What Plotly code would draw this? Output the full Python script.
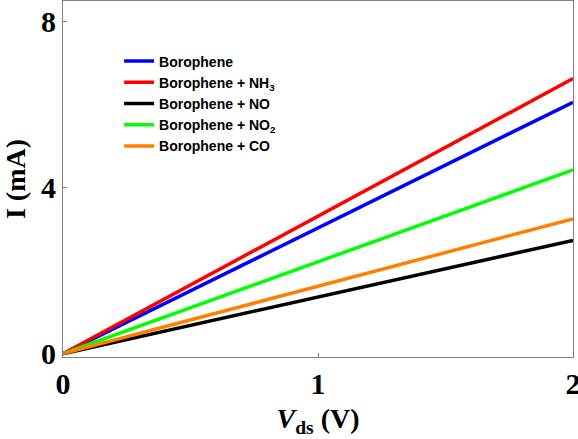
import plotly.graph_objects as go

vds = [0, 2]
names = ["Borophene", "Borophene + NH<sub>3</sub>", "Borophene + NO",
         "Borophene + NO<sub>2</sub>", "Borophene + CO"]
colors = ["#0000ff", "#ff0000", "#000000", "#00ff00", "#ff8000"]
current = [
    [0.0, 6.06],
    [0.0, 6.63],
    [0.0, 2.73],
    [0.0, 4.43],
    [0.0, 3.25],
]
xticks = [0, 1, 2]
yticks = [0, 4, 8]

fig = go.Figure()
for n, c, y in zip(names, colors, current):
    fig.add_trace(go.Scatter(x=vds, y=y, mode="lines", name=n,
                             line=dict(color=c, width=3.5)))

serif = "Liberation Serif"
fig.update_layout(
    width=578, height=439,
    margin=dict(l=63, r=5, t=1, b=82, autoexpand=False),
    paper_bgcolor="white", plot_bgcolor="white",
    showlegend=True,
    legend=dict(x=0.11, y=0.875, xanchor="left", yanchor="top",
                bgcolor="rgba(0,0,0,0)", tracegroupgap=0,
                font=dict(family="Liberation Sans", size=14, color="black", weight="bold"),
                itemwidth=30),
    xaxis=dict(range=[0, 2], tickvals=xticks, ticks="inside", ticklen=4, tickcolor="#808080",
               showline=True, linecolor="#808080", linewidth=1, mirror=True,
               showgrid=False, zeroline=False, ticklabeloverflow="allow", automargin=False,
               tickfont=dict(family=serif, size=30, color="black", weight="bold"),
               title=dict(text="<i>V</i><sub>ds</sub> (V)", standoff=9,
                          font=dict(family=serif, size=28, color="black", weight="bold"))),
    yaxis=dict(range=[-0.08, 8.5], tickvals=yticks, ticks="inside", ticklen=4, tickcolor="#808080",
               showline=True, linecolor="#808080", linewidth=1, mirror=True, automargin=False,
               showgrid=False, zeroline=False,
               tickfont=dict(family=serif, size=30, color="black", weight="bold"),
               title=dict(text="I (mA)", standoff=8,
                          font=dict(family=serif, size=28, color="black", weight="bold"))),
)
fig.write_html("out.html")
